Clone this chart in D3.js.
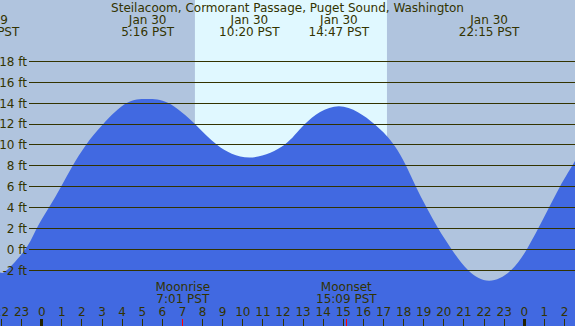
<!DOCTYPE html>
<html><head><meta charset="utf-8">
<script src="https://cdn.jsdelivr.net/npm/d3@7"></script>
<style>
html,body{margin:0;padding:0;background:#b0c4de;}
svg{display:block;}
text{font-family:"DejaVu Sans",sans-serif;font-size:12px;fill:#333300;}
</style></head>
<body>
<svg id="chart" width="575" height="326"></svg>
<script>
// ---- data (hours from midnight Jan 30, PST) ----
const title = "Steilacoom, Cormorant Passage, Puget Sound, Washington";
const tideHours = [-2.62, -2.07, -1.74, -0.82, -0.25, 0.36, 0.96, 1.54, 2.20, 3.06, 4.23, 5.27, 6.30, 7.62, 8.73, 10.33, 12.06, 13.09, 14.78, 16.54, 17.52, 18.12, 18.61, 19.14, 19.72, 20.39, 21.21, 22.25, 23.34, 24.12, 24.69, 25.23, 25.77, 26.38, 26.70];
const tideFeet  = [-2.35, -2.2, -2.0, 0, 2, 4, 6, 8, 10, 12, 14, 14.4, 14, 12, 10, 8.8, 10, 12, 13.7, 12, 10, 8, 6, 4, 2, 0, -2, -3.0, -2, 0, 2, 4, 6, 8, 9.1];
const eventHours = [-2.62, 5.27, 10.33, 14.78, 22.25];
const eventDates = ["Jan 29", "Jan 30", "Jan 30", "Jan 30", "Jan 30"];
const eventTimes = ["21:23 PST", "5:16 PST", "10:20 PST", "14:47 PST", "22:15 PST"];
const dayStart = 7.62, dayEnd = 17.17;          // sunrise / sunset
const feetTicks = [-2, 0, 2, 4, 6, 8, 10, 12, 14, 16, 18];
const hourTicks = d3.range(-2, 27);
const moonHours = [7.017, 15.15];
const moonNames = ["Moonrise", "Moonset"];
const moonTimes = ["7:01 PST", "15:09 PST"];

// ---- layout ----
const W = 575, H = 326;
const svg = d3.select("#chart");
const x = d3.scaleLinear().domain([0, 24]).range([41.7, 524.3]);
const y = d3.scaleLinear().domain([-2, 18]).range([270.3, 61.3]);

// background night / day
svg.append("rect").attr("x", 0).attr("y", 0).attr("width", W).attr("height", H).attr("fill", "#b0c4de");
svg.append("rect").attr("x", x(dayStart)).attr("y", 0)
  .attr("width", x(dayEnd) - x(dayStart)).attr("height", H).attr("fill", "#e0f8ff");

// tide area
const pts = tideHours.map((h, i) => [h, tideFeet[i]]);
const area = d3.area().x(d => x(d[0])).y0(H).y1(d => y(d[1])).curve(d3.curveNatural);
svg.append("path").datum(pts).attr("d", area).attr("fill", "#4169e1");

// grid lines + labels
const g = svg.append("g");
feetTicks.forEach(f => {
  const yy = Math.floor(y(f)) + 0.5;
  g.append("line").attr("x1", 29).attr("x2", W).attr("y1", yy).attr("y2", yy)
    .attr("stroke", "#333300").attr("stroke-width", 1);
  g.append("text").attr("x", 27).attr("y", y(f) + 4.4).attr("text-anchor", "end").text(f + " ft");
});

// top labels
svg.append("text").attr("x", W / 2).attr("y", 11.5).attr("text-anchor", "middle").text(title);
eventHours.forEach((h, i) => {
  svg.append("text").attr("x", x(h)).attr("y", 23.5).attr("text-anchor", "middle").text(eventDates[i]);
  svg.append("text").attr("x", x(h)).attr("y", 35.5).attr("text-anchor", "middle").text(eventTimes[i]);
});

// bottom hour axis
hourTicks.forEach(h => {
  const mid = ((h % 24) + 24) % 24 === 0;
  const xx = Math.floor(x(h)) + 0.5;
  svg.append("line").attr("x1", xx).attr("x2", xx).attr("y1", 319).attr("y2", H)
    .attr("stroke", mid ? "#222200" : "#333300").attr("stroke-width", mid ? 3 : 1);
  svg.append("text").attr("x", x(h)).attr("y", 316).attr("text-anchor", "middle")
    .text(((h % 24) + 24) % 24);
});

// moon events
moonHours.forEach((h, i) => {
  const xx = Math.floor(x(h)) + 0.5;
  svg.append("line").attr("x1", xx).attr("x2", xx).attr("y1", 319).attr("y2", H)
    .attr("stroke", "#ff0000").attr("stroke-width", 1);
  svg.append("text").attr("x", x(h)).attr("y", 291).attr("text-anchor", "middle").text(moonNames[i]);
  svg.append("text").attr("x", x(h)).attr("y", 303).attr("text-anchor", "middle").text(moonTimes[i]);
});
</script>
</body></html>
